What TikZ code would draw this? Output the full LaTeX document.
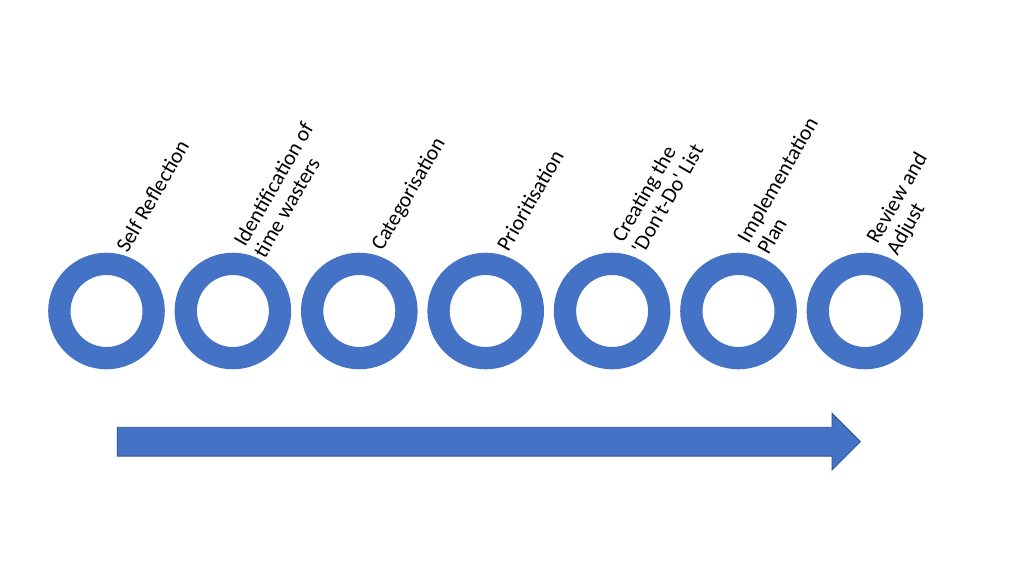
\documentclass[tikz,border=0pt]{standalone}
\usepackage{fontspec}
\setmainfont{Carlito}
\usetikzlibrary{positioning,calc,shapes.arrows}
\definecolor{ringblue}{HTML}{4472C4}
\definecolor{arrowedge}{HTML}{2F528F}
\tikzset{
  ring/.style={circle,draw=ringblue,line width=22.3pt,minimum size=94.3pt,inner sep=0pt},
  stagetext/.style={anchor=base west,rotate=60,inner sep=0pt,align=left,
    font=\fontsize{21.5}{23}\selectfont},
  timeline/.style={single arrow,fill=ringblue,draw=arrowedge,line width=0.8pt,
    inner sep=14pt,single arrow head extend=14pt,single arrow tip angle=90,
    minimum height=743.3pt,anchor=west}
}
\begin{document}
\begin{tikzpicture}[x=1pt,y=1pt,node distance=126.4pt]
   \useasboundingbox (0,0) rectangle (1024,576);
   \node (R1) [ring] at (106.5,265) {};
   \node (R2) [ring,right of=R1] {};
   \node (R3) [ring,right of=R2] {};
   \node (R4) [ring,right of=R3] {};
   \node (R5) [ring,right of=R4] {};
   \node (R6) [ring,right of=R5] {};
   \node (R7) [ring,right of=R6] {};

   \node (T1) [stagetext] at ($(R1)+(21,57)$) {Self Reflection};
   \node (T2) [stagetext] at ($(R2)+(32,51.5)$) {Identification of\\time wasters};
   \node (T3) [stagetext] at ($(R3)+(23,59)$) {Categorisation};
   \node (T4) [stagetext] at ($(R4)+(22.5,58)$) {Prioritisation};
   \node (T5) [stagetext] at ($(R5)+(31,55.5)$) {Creating the\\\textquotesingle Don\textquotesingle t-Do\textquotesingle{} List};
   \node (T6) [stagetext] at ($(R6)+(30,55)$) {Implementation\\Plan};
   \node (T7) [stagetext] at ($(R7)+(32.5,54.5)$) {Review and\\Adjust};

   \node (A) [timeline] at (116.7,134.3) {};
\end{tikzpicture}
\end{document}
